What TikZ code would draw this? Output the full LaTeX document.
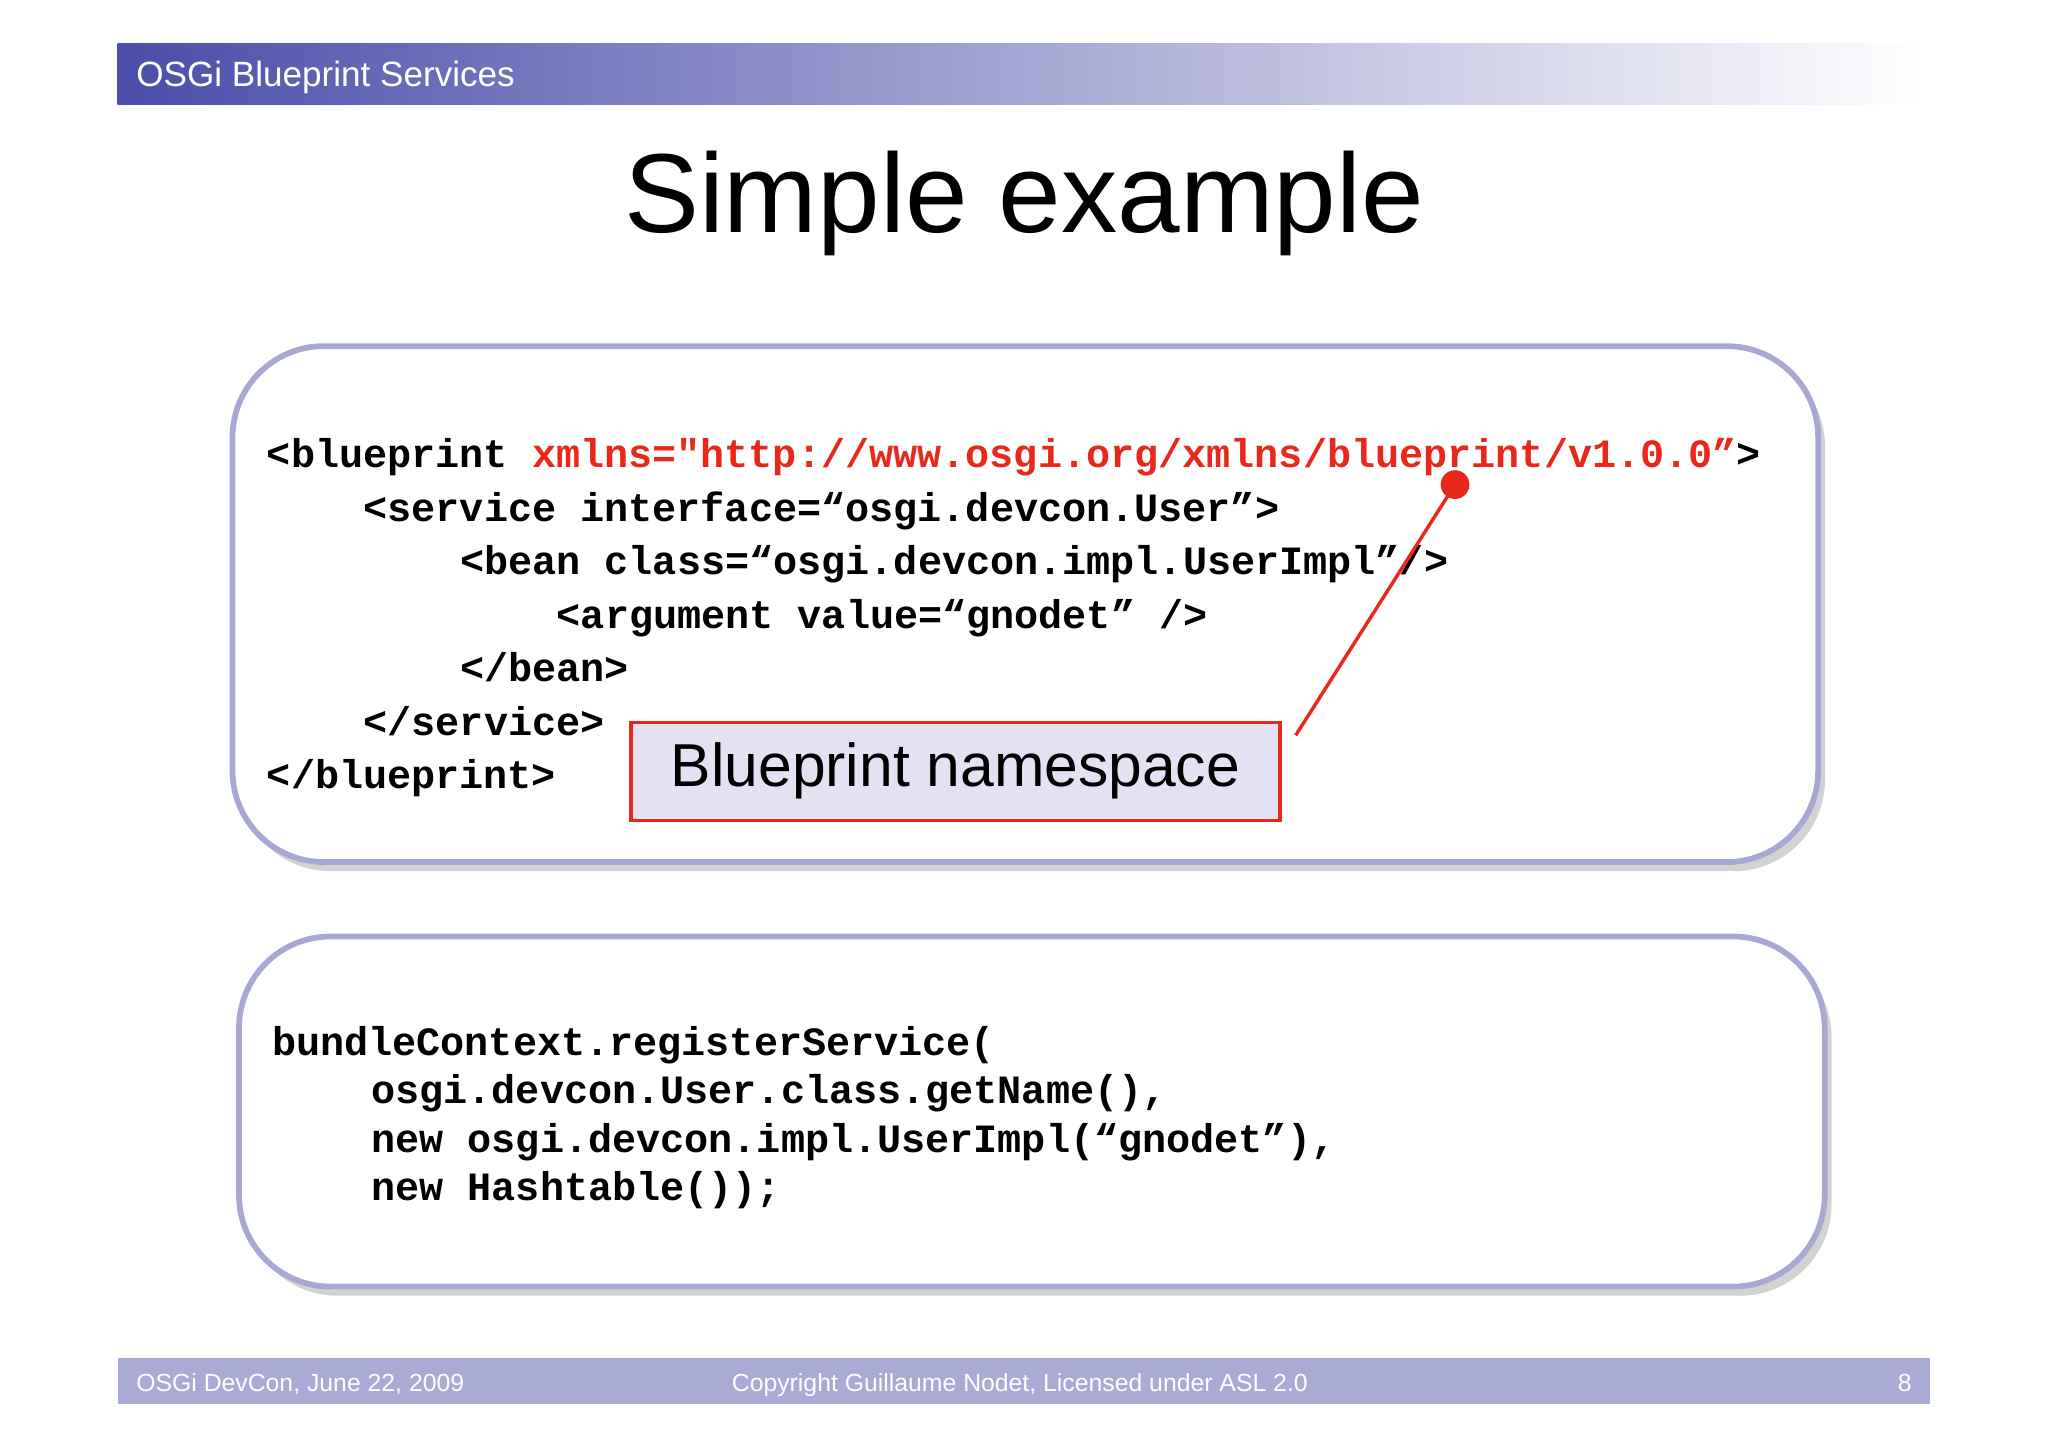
\documentclass[tikz,border=0pt]{standalone}
\usepackage{fontspec}
\setmainfont{Liberation Sans}
\setmonofont{Liberation Mono}
\usetikzlibrary{shadows}
\definecolor{hdr}{HTML}{4A4EA8}
\definecolor{ftr}{HTML}{A9AAD6}
\definecolor{frm}{HTML}{A8A8D4}
\definecolor{xred}{HTML}{E8281A}
\definecolor{lbl}{HTML}{E2E2F2}
\tikzset{
 code/.style={anchor=base west,inner sep=0pt,font=\ttfamily\bfseries\fontsize{17.5}{20}\selectfont},
 panel/.style={draw=frm,line width=2.5pt,rounded corners=1.4cm,fill=white,drop shadow={opacity=0.35,shadow xshift=3pt,shadow yshift=-4pt}},
 ftxt/.style={anchor=base west,inner sep=0pt,text=white,font=\fontsize{10.8}{13}\selectfont}
}
\begin{document}
\begin{tikzpicture}[x=0.02cm,y=-0.02cm]
\useasboundingbox (0,0) rectangle (1568,1107);
\fill[white] (0,0) rectangle (1568,1107);
% header
\shade[left color=hdr,right color=white] (90,33) rectangle (1478,80);
\node[anchor=base west,inner sep=0pt,text=white,font=\fontsize{15.3}{18}\selectfont] (hd) at (104,66) {OSGi Blueprint Services};
% title
\node[anchor=base,inner sep=0pt,font=\fontsize{49}{56}\selectfont] (title) at (784,178) {Simple example};
% panels
\draw[panel] (178,265) rectangle (1392,660);
\draw[panel] (183,717) rectangle (1397,985);
% xml code
\node[code] (l1) at (204,358) {<blueprint \textcolor{xred}{xmlns="http://www.osgi.org/xmlns/blueprint/v1.0.0”}>};
\node[code] (l2) at (278,399) {<service interface=“osgi.devcon.User”>};
\node[code] (l3) at (352,440) {<bean class=“osgi.devcon.impl.UserImpl”/>};
\node[code] (l4) at (426,481) {<argument value=“gnodet” />};
\node[code] (l5) at (352,522) {</bean>};
\node[code] (l6) at (278,563) {</service>};
\node[code] (l7) at (204,604) {</blueprint>};
% label
\node[draw=xred,line width=1.5pt,fill=lbl,minimum width=497*0.02cm,minimum height=75*0.02cm,font=\fontsize{26.4}{30}\selectfont,inner sep=0pt] (ns) at (731.5,590.5) {Blueprint namespace};
\coordinate (lend) at (992,563);
\node[circle,fill=xred,minimum size=0.44cm,inner sep=0pt] (dot) at (1114,371) {};
\draw[xred,line width=1.5pt] (lend) -- (dot.center);
% java code
\node[code] (j1) at (208,808) {bundleContext.registerService(};
\node[code] (j2) at (284,845) {osgi.devcon.User.class.getName(),};
\node[code] (j3) at (284,882) {new osgi.devcon.impl.UserImpl(“gnodet”),};
\node[code] (j4) at (284,919) {new Hashtable());};
% footer
\fill[ftr] (90,1040) rectangle (1478,1075);
\node[ftxt] (f1) at (104,1065) {OSGi DevCon, June 22, 2009};
\node[ftxt] (f2) at (560,1065) {Copyright Guillaume Nodet, Licensed under ASL 2.0};
\node[ftxt,anchor=base east] (f3) at (1464,1065) {8};
\end{tikzpicture}
\end{document}
